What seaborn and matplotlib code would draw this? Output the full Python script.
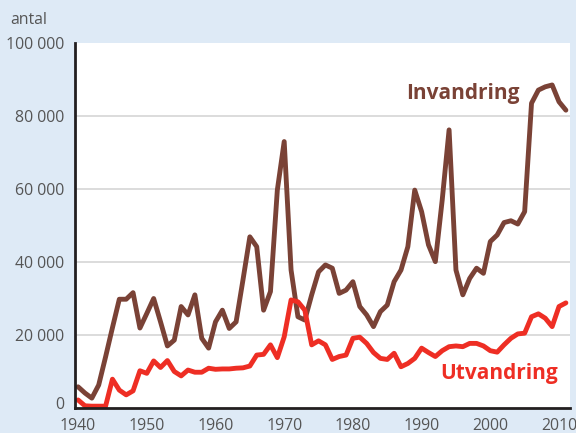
import numpy as np
import pandas as pd
import matplotlib
matplotlib.use("Agg")
import matplotlib.pyplot as plt
import matplotlib.transforms as mtransforms
from matplotlib.ticker import FuncFormatter, MultipleLocator
import seaborn as sns

# Data (persons per year)
years = list(range(1940, 2012))

invandring = [5800, 4100, 2700, 6300, 14000, 22000, 29800, 29800, 31600, 21900,
              25900, 30000, 23600, 17000, 18600, 27800, 25500, 31000, 19100, 16400,
              23600, 26800, 21800, 23600, 35100, 46900, 44200, 26800, 31900, 59700,
              73000, 37800, 25000, 24100, 31000, 37300, 39200, 38300, 31400, 32300,
              34600, 27800, 25500, 22300, 26400, 28200, 34600, 37800, 44200, 59700,
              53800, 44700, 40100, 57000, 76200, 37800, 31000, 35500, 38300, 36900,
              45600, 47400, 50800, 51300, 50400, 53800, 83500, 87100, 88000, 88500,
              83900, 81600]

utvandring = [2200, 600, 500, 500, 500, 7900, 4900, 3600, 4700, 10200,
              9500, 12900, 11100, 13000, 10000, 8800, 10400, 9800, 9800, 10900,
              10600, 10700, 10700, 10900, 11000, 11500, 14500, 14700, 17300, 13800,
              19500, 29600, 29100, 26800, 17300, 18400, 17300, 13300, 14100, 14500,
              19100, 19400, 17700, 15200, 13600, 13300, 15000, 11300, 12200, 13600,
              16400, 15200, 14100, 15700, 16800, 17000, 16800, 17700, 17700, 17000,
              15700, 15300, 17300, 19100, 20300, 20500, 25000, 25800, 24600, 22300,
              27800, 28800]

series_names = ["Invandring", "Utvandring"]
colors = {"Invandring": "#7a4236", "Utvandring": "#ee2e24"}

df = pd.DataFrame({
    "year": years * 2,
    "antal": invandring + utvandring,
    "serie": [series_names[0]] * len(years) + [series_names[1]] * len(years),
})

sns.set_style("white")
plt.rcParams["font.family"] = ["Open Sans", "DejaVu Sans"]

bg = "#deeaf6"
fig = plt.figure(figsize=(5.76, 4.33), dpi=100, facecolor=bg)
ax = fig.add_axes([75 / 576, 25 / 433, 495 / 576, 365 / 433])
ax.set_facecolor("white")

sns.lineplot(data=df, x="year", y="antal", hue="serie", palette=colors,
             linewidth=3.5, legend=False, ax=ax, zorder=3)

ax.set_xlim(1939.55, 2011.6)
ax.set_ylim(0, 100000)

ax.xaxis.set_major_locator(MultipleLocator(10))
ax.xaxis.set_minor_locator(MultipleLocator(1))
ax.set_yticks([0, 20000, 40000, 60000, 80000, 100000])
ax.yaxis.set_major_formatter(FuncFormatter(lambda v, p: f"{int(v):,}".replace(",", " ")))

for yv in [20000, 40000, 60000, 80000]:
    ax.axhline(yv, color="#d9d9d9", linewidth=1.3, zorder=1)

ax.tick_params(axis="x", which="both", direction="in", length=6, width=1,
               color="#c4c4c4", labelsize=11.4, labelcolor="#555555", pad=7)
ax.tick_params(axis="y", which="both", length=0, labelsize=11.4,
               labelcolor="#555555", pad=8)

for s in ["top", "right"]:
    ax.spines[s].set_visible(False)
for s in ["left", "bottom"]:
    ax.spines[s].set_color("#231f20")
    ax.spines[s].set_linewidth(2)
    ax.spines[s].set_zorder(4)

ax.set_xlabel("")
ax.set_ylabel("")

# raise the "0" label a little off the x axis
lab0 = ax.get_yticklabels()[0]
lab0.set_transform(lab0.get_transform() + mtransforms.ScaledTranslation(0, 5 / 100, fig.dpi_scale_trans))

ax.text(1996.0, 84600, "Invandring", color=colors["Invandring"], fontsize=15,
        fontweight="bold", ha="center", va="baseline", zorder=5)
ax.text(2001.3, 7900, "Utvandring", color=colors["Utvandring"], fontsize=15,
        fontweight="bold", ha="center", va="baseline", zorder=5)

fig.text(10 / 576, 1 - 20 / 433, "antal", fontsize=11.4, color="#555555", va="center")

fig.savefig("out.png", dpi=100, facecolor=bg)
